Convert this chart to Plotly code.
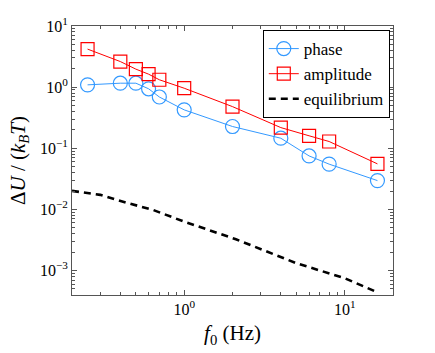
import plotly.graph_objects as go

f0 = [0.25, 0.4, 0.5, 0.6, 0.7, 1, 2, 4, 6, 8, 16]
phase = [1.09, 1.16, 1.16, 0.94, 0.69, 0.425, 0.227, 0.146, 0.075, 0.055, 0.0296]
amplitude = [4.19, 2.62, 1.97, 1.63, 1.32, 0.96, 0.48, 0.218, 0.16, 0.129, 0.0556]
f_eq = [0.2, 0.3, 0.45, 0.64, 1, 2.1, 5, 10, 16]
equilibrium = [0.0201, 0.0173, 0.0126, 0.0098, 0.0063, 0.00325, 0.00132, 0.00075, 0.00044]

x_tickvals = [1, 10]
x_ticktext = ["10<sup>0</sup>", "10<sup>1</sup>"]
y_tickvals = [1e-3, 1e-2, 1e-1, 1, 10]
y_ticktext = ["10<sup>−3</sup>", "10<sup>−2</sup>", "10<sup>−1</sup>", "10<sup>0</sup>", "10<sup>1</sup>"]

FONT = "Liberation Serif, Times New Roman, serif"

fig = go.Figure()
fig.add_trace(go.Scatter(
    x=f0, y=phase, name="phase", mode="lines+markers",
    line=dict(color="#3399ff", width=1),
    marker=dict(symbol="circle-open", size=14, color="#3399ff", line=dict(width=1.2)),
))
fig.add_trace(go.Scatter(
    x=f0, y=amplitude, name="amplitude", mode="lines+markers",
    line=dict(color="#ff0000", width=1),
    marker=dict(symbol="square-open", size=13, color="#ff0000", line=dict(width=1.2)),
))
fig.add_trace(go.Scatter(
    x=f_eq, y=equilibrium, name="equilibrium", mode="lines",
    line=dict(color="black", width=2.6, dash="7px,5px"),
))

minor_x = [m * 10 ** e for e in range(-1, 2) for m in range(2, 10)]
minor_y = [m * 10 ** e for e in range(-4, 1) for m in range(2, 10)]

axis_common = dict(
    showgrid=False, zeroline=False, showline=True, linecolor="#555555", linewidth=1,
    mirror="allticks", ticks="inside", ticklen=5, tickcolor="#555555",
    tickfont=dict(family=FONT, size=16, color="black"), automargin=False,
)

fig.update_xaxes(
    type="log", range=[-0.699, 1.301],
    tickmode="array", tickvals=x_tickvals, ticktext=x_ticktext,
    minor=dict(tickmode="array", tickvals=minor_x, ticks="inside", ticklen=3, tickcolor="#555555"),
    title=dict(text="<i>f</i><sub>0</sub> (Hz)", font=dict(family=FONT, size=21, color="black"), standoff=8),
    **axis_common,
)
fig.update_yaxes(
    type="log", range=[-3.4, 1.0],
    tickmode="array", tickvals=y_tickvals, ticktext=y_ticktext,
    minor=dict(tickmode="array", tickvals=minor_y, ticks="inside", ticklen=3, tickcolor="#555555"),
    title=dict(text="Δ<i>U</i> / (<i>k</i><sub><i>B</i></sub><i>T</i>)", font=dict(family=FONT, size=21, color="black"), standoff=8),
    **axis_common,
)

fig.update_layout(
    width=435, height=353,
    margin=dict(l=72, r=42, t=26, b=58, autoexpand=False),
    plot_bgcolor="white", paper_bgcolor="white",
    font=dict(family=FONT, color="black"),
    legend=dict(
        x=0.99, y=0.985, xanchor="right", yanchor="top",
        bgcolor="white", bordercolor="black", borderwidth=1,
        font=dict(family=FONT, size=17, color="black"),
        tracegroupgap=0, itemwidth=30,
    ),
)

fig.write_html(
    "out.html",
    config={"displayModeBar": False},
    post_script="document.body.style.margin='0';document.body.style.padding='0';",
)
